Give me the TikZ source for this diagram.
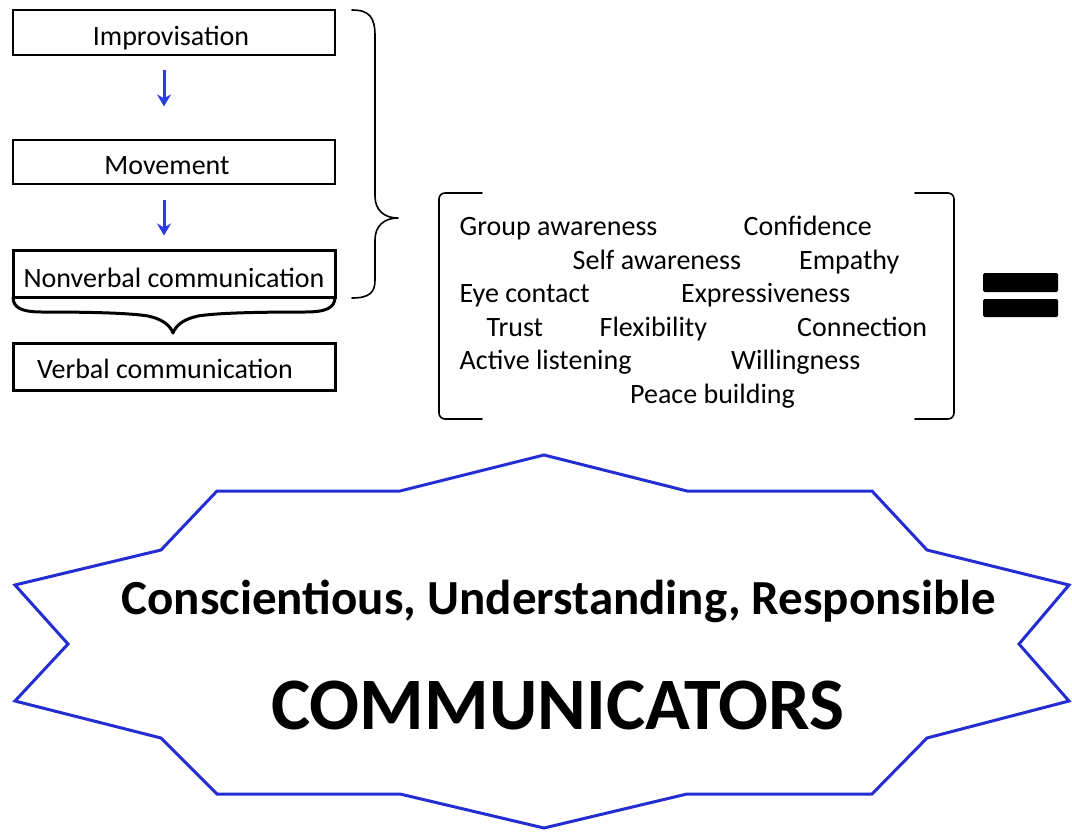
\documentclass[tikz,border=0pt]{standalone}
\usepackage{fontspec}
\setmainfont{Carlito}
\usetikzlibrary{arrows.meta}

\definecolor{flowblue}{RGB}{40,60,225}
\definecolor{starblue}{RGB}{35,45,210}

\tikzset{
  stagebox/.style={draw, line width=1.2pt, minimum width=322pt, inner sep=0pt},
  keybox/.style={stagebox, line width=3pt},
  flowarrow/.style={draw=flowblue, line width=3pt, -{Stealth[length=12pt,width=14pt,inset=4pt]}},
  lbl/.style={font=\fontsize{28}{34}\selectfont, inner sep=0pt, anchor=base},
  trait/.style={lbl, anchor=base west},
  bracefrm/.style={draw, line width=1.6pt, line cap=round, line join=round},
}

\begin{document}
\begin{tikzpicture}[x=1pt,y=-1pt]
\useasboundingbox (0,0) rectangle (1072,831);

% stages of the process
\node[stagebox, minimum height=45pt] (imp) at (174,32.5) {};
\node[lbl] (impt) at (171,45) {Improvisation};
\node[stagebox, minimum height=44pt] (mov) at (174,162) {};
\node[lbl] (movt) at (167,174) {Movement};
\node[keybox, minimum height=47pt] (non) at (174,273.5) {};
\node[lbl] (nont) at (174,287) {Nonverbal communication};
\node[keybox, minimum height=47pt] (verb) at (174,366.5) {};
\node[lbl] (verbt) at (165,378) {Verbal communication};

\draw[flowarrow] ([xshift=-10pt,yshift=-14pt]imp.south) -- ([xshift=-10pt,yshift=33pt]mov.north);
\draw[flowarrow] ([xshift=-10pt,yshift=-15pt]mov.south) -- ([xshift=-10pt,yshift=13pt]non.north);

% brace under the nonverbal box
\draw[line width=3pt, line join=round]
  (13,297) .. controls (13,308) and (22,312) .. (42,312)
  .. controls (90,312) and (130,313) .. (148,316)
  .. controls (162,319) and (170,325) .. (173,333)
  .. controls (176,325) and (184,319) .. (198,316)
  .. controls (216,313) and (256,312) .. (305,312)
  .. controls (326,312) and (335,308) .. (335,297);

% brace grouping the three stages
\draw[bracefrm]
  (352,10) .. controls (370,10) and (375,18) .. (375,36) -- (375,196)
  .. controls (375,210) and (384,218) .. (398,218)
  .. controls (384,218) and (375,226) .. (375,240) -- (375,280)
  .. controls (375,292) and (370,298) .. (352,298);

% bracketed list of qualities
\draw[bracefrm, rounded corners=6pt] (482,193) -- (439,193) -- (439,419) -- (482,419);
\draw[bracefrm, rounded corners=6pt] (915,193) -- (954,193) -- (954,419) -- (915,419);

\node[trait] (q1) at (459.5,235) {Group awareness};
\node[trait] (q2) at (743.5,235) {Confidence};
\node[trait] (q3) at (572.5,269) {Self awareness};
\node[trait] (q4) at (799,269) {Empathy};
\node[trait] (q5) at (459.5,302) {Eye contact};
\node[trait] (q6) at (681,302) {Expressiveness};
\node[trait] (q7) at (486.5,336) {Trust};
\node[trait] (q8) at (599.5,336) {Flexibility};
\node[trait] (q9) at (797,336) {Connection};
\node[trait] (q10) at (459.5,369.5) {Active listening};
\node[trait] (q11) at (731,369.5) {Willingness};
\node[trait] (q12) at (630,403) {Peace building};

% equals sign
\fill[rounded corners=1.5pt] (983,273) rectangle (1058,292);
\fill[rounded corners=1.5pt] (983,299) rectangle (1058,317);

% star-shaped result
\draw[starblue, line width=3pt, line join=miter]
  (544,455) -- (687,491) -- (872,491) -- (927,550) -- (1069,585) -- (1019,644)
  -- (1069,701) -- (927,738) -- (872,794) -- (687,794) -- (544,828) -- (400,794)
  -- (217,794) -- (161,738) -- (15,701) -- (68,644) -- (15,585) -- (161,550)
  -- (217,491) -- (400,491) -- cycle;

\node[font=\fontsize{49}{59}\selectfont\bfseries, inner sep=0pt, anchor=base] (crs) at (559,614)
  {Conscientious, Understanding, Responsible};
\node[font=\fontsize{74}{88}\selectfont\bfseries, inner sep=0pt, anchor=base] (comm) at (558,729)
  {COMMUNICATORS};
\end{tikzpicture}
\end{document}
